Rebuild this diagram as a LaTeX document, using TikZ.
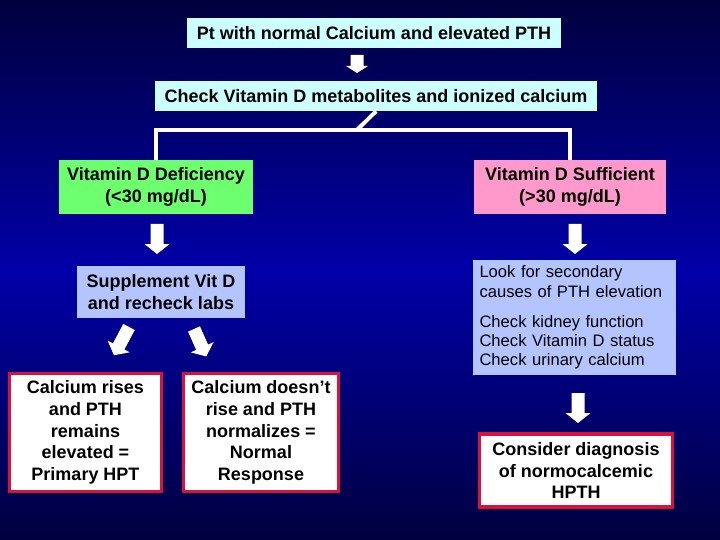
\documentclass[tikz,border=0pt]{standalone}
\usepackage{fontspec}
\setmainfont{Liberation Sans}
\definecolor{bgdark}{RGB}{0,0,62}
\definecolor{bgmid}{RGB}{0,0,168}
\definecolor{cyanbox}{RGB}{204,255,255}
\definecolor{greenbox}{RGB}{110,255,110}
\definecolor{pinkbox}{RGB}{255,153,204}
\definecolor{lavbox}{RGB}{179,196,255}
\definecolor{redline}{RGB}{218,18,58}
\newcommand\blkarrow[7]{%
  \fill[white,shift={(#1,#2)},rotate=#3] (-#5,0) -- (#5,0) -- (#5,#4-#7) -- (#6,#4-#7) -- (0,#4) -- (-#6,#4-#7) -- (-#5,#4-#7) -- cycle;}
\tikzset{
  boxbase/.style={inner sep=0pt, align=center, text=black},
  bigtext/.style={font=\bfseries\fontsize{18}{21.6}\selectfont},
  cyanstyle/.style={boxbase, bigtext, fill=cyanbox},
  greenstyle/.style={boxbase, bigtext, fill=greenbox},
  pinkstyle/.style={boxbase, bigtext, fill=pinkbox},
  lavstyle/.style={boxbase, fill=lavbox},
  redstyle/.style={boxbase, bigtext, fill=white, draw=redline, line width=3.5pt},
  conn/.style={draw=white, line width=4pt},
}
\begin{document}
\begin{tikzpicture}[x=1pt,y=-1pt]
\useasboundingbox (0,0) rectangle (720,540);
\shade[top color=bgdark, bottom color=bgdark, middle color=bgmid] (0,0) rectangle (720,540);

\node[cyanstyle, minimum width=374pt, minimum height=30pt] (top) at (374,33) {Pt with normal Calcium and elevated PTH};
\node[cyanstyle, minimum width=442pt, minimum height=30pt] (chk) at (376,96) {Check Vitamin D metabolites and ionized calcium};
\node[greenstyle, minimum width=194pt, minimum height=54pt] (def) at (156,187) {Vitamin D Deficiency\\(<30 mg/dL)};
\node[pinkstyle, minimum width=192pt, minimum height=54pt] (suf) at (570,187) {Vitamin D Sufficient\\(>30 mg/dL)};
\node[lavstyle, bigtext, minimum width=168pt, minimum height=52pt] (sup) at (161,292) {Supplement Vit D\\and recheck labs};
\node[lavstyle, minimum width=203pt, minimum height=115pt, text width=190pt, align=left, font=\fontsize{16.6}{19.4}\selectfont] (look) at (574.5,317.5) {Look for secondary\\causes of PTH elevation\\[10.5pt]Check kidney function\\Check Vitamin D status\\Check urinary calcium};
\node[redstyle, minimum width=152pt, minimum height=118pt] (prim) at (85.5,432.5) {Calcium rises\\and PTH\\remains\\elevated =\\Primary HPT};
\node[redstyle, minimum width=155pt, minimum height=118pt] (norm) at (261,432.5) {Calcium doesn’t\\rise and PTH\\normalizes =\\Normal\\Response};
\node[redstyle, minimum width=193pt, minimum height=73pt] (cons) at (576,470.5) {Consider diagnosis\\of normocalcemic\\HPTH};

\coordinate (j) at (357,130);
\draw[conn] (chk.south) -- (j);
\draw[conn, line join=miter] (def.north) -- (def.north |- j) -- (suf.north |- j) -- (suf.north);

\blkarrow{357}{55}{0}{18}{6.5}{11}{7}
\blkarrow{157}{224}{0}{30}{6.5}{12.5}{10}
\blkarrow{575}{224}{0}{30}{6.5}{12.5}{10}
\blkarrow{578}{393}{0}{30}{6.5}{12.5}{10}
\blkarrow{129}{327}{-28}{32}{6.5}{12.5}{10}
\blkarrow{194}{329}{24}{30}{6.5}{12.5}{10}
\end{tikzpicture}
\end{document}
